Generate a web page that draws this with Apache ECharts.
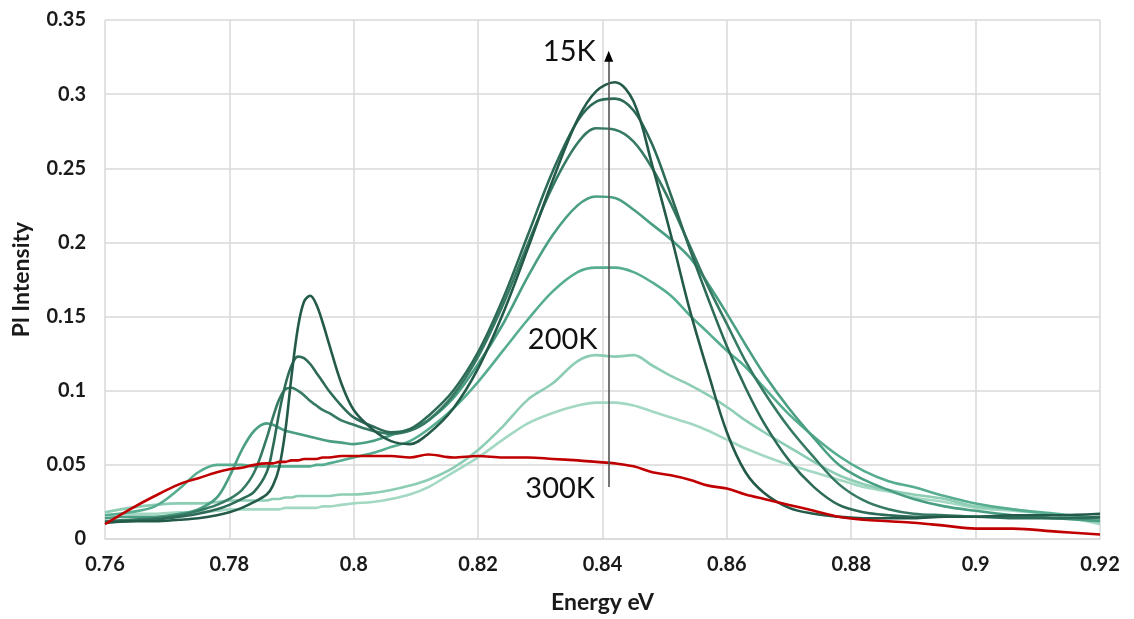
<!DOCTYPE html>
<html>
<head>
<meta charset="utf-8">
<script src="https://cdn.jsdelivr.net/npm/echarts@6/dist/echarts.min.js"></script>
<style>
  html, body { margin: 0; padding: 0; background: #ffffff; }
  #chart { width: 1134px; height: 619px; }
</style>
</head>
<body>
<div id="chart"></div>
<script>
// ---- data ----
const energy = [0.760, 0.764, 0.768, 0.772, 0.775, 0.778, 0.780, 0.782, 0.784, 0.786,
  0.787, 0.788, 0.789, 0.790, 0.791, 0.792, 0.793, 0.794, 0.795, 0.796,
  0.798, 0.800, 0.803, 0.806, 0.809, 0.812, 0.816, 0.820, 0.824, 0.828,
  0.832, 0.836, 0.839, 0.842, 0.845, 0.848, 0.851, 0.854, 0.857, 0.860,
  0.863, 0.866, 0.870, 0.874, 0.878, 0.882, 0.886, 0.890, 0.895, 0.900,
  0.906, 0.913, 0.920];

const pl15K = [0.011, 0.012, 0.012, 0.013, 0.014, 0.016, 0.018, 0.021, 0.025, 0.030,
  0.036, 0.048, 0.073, 0.110, 0.142, 0.160, 0.164, 0.158, 0.146, 0.132,
  0.105, 0.087, 0.074, 0.066, 0.064, 0.071, 0.088, 0.115, 0.152, 0.196,
  0.242, 0.283, 0.302, 0.308, 0.295, 0.252, 0.205, 0.155, 0.112, 0.072,
  0.045, 0.031, 0.021, 0.017, 0.015, 0.014, 0.014, 0.014, 0.015, 0.015,
  0.016, 0.016, 0.017];

const plB = [0.011, 0.012, 0.013, 0.015, 0.017, 0.020, 0.023, 0.027, 0.032, 0.045,
  0.062, 0.085, 0.104, 0.117, 0.123, 0.122, 0.118, 0.112, 0.106, 0.100,
  0.090, 0.082, 0.076, 0.072, 0.074, 0.083, 0.100, 0.126, 0.162, 0.205,
  0.248, 0.282, 0.295, 0.297, 0.289, 0.266, 0.232, 0.196, 0.162, 0.130,
  0.102, 0.078, 0.053, 0.035, 0.023, 0.018, 0.016, 0.015, 0.015, 0.015,
  0.014, 0.014, 0.015];

const plC = [0.012, 0.013, 0.014, 0.016, 0.019, 0.023, 0.027, 0.033, 0.045, 0.068,
  0.082, 0.094, 0.101, 0.102, 0.100, 0.097, 0.093, 0.090, 0.087, 0.085,
  0.080, 0.077, 0.073, 0.071, 0.073, 0.080, 0.097, 0.123, 0.158, 0.199,
  0.238, 0.267, 0.277, 0.276, 0.268, 0.250, 0.226, 0.198, 0.170, 0.145,
  0.120, 0.099, 0.075, 0.055, 0.037, 0.026, 0.020, 0.017, 0.016, 0.015,
  0.015, 0.014, 0.014];

const plD = [0.014, 0.015, 0.015, 0.017, 0.020, 0.028, 0.042, 0.060, 0.073, 0.078,
  0.077, 0.075, 0.073, 0.072, 0.071, 0.070, 0.069, 0.068, 0.067, 0.066,
  0.065, 0.064, 0.066, 0.070, 0.074, 0.080, 0.095, 0.118, 0.145, 0.177,
  0.205, 0.225, 0.231, 0.230, 0.222, 0.212, 0.202, 0.190, 0.172, 0.152,
  0.131, 0.111, 0.088, 0.068, 0.050, 0.040, 0.033, 0.027, 0.022, 0.019,
  0.016, 0.014, 0.012];

const plE = [0.016, 0.018, 0.022, 0.034, 0.045, 0.050, 0.050, 0.050, 0.049, 0.049,
  0.049, 0.049, 0.049, 0.049, 0.049, 0.049, 0.049, 0.050, 0.050, 0.051,
  0.053, 0.055, 0.058, 0.062, 0.066, 0.074, 0.088, 0.106, 0.127, 0.148,
  0.167, 0.180, 0.183, 0.183, 0.180, 0.173, 0.164, 0.151, 0.139, 0.127,
  0.116, 0.102, 0.084, 0.069, 0.056, 0.046, 0.039, 0.035, 0.029, 0.024,
  0.020, 0.017, 0.014];

const pl200K = [0.018, 0.021, 0.023, 0.024, 0.024, 0.025, 0.026, 0.026, 0.026, 0.026,
  0.027, 0.027, 0.028, 0.028, 0.029, 0.029, 0.029, 0.029, 0.029, 0.029,
  0.030, 0.030, 0.031, 0.033, 0.036, 0.040, 0.048, 0.060, 0.076, 0.094,
  0.105, 0.120, 0.124, 0.123, 0.124, 0.117, 0.110, 0.104, 0.097, 0.089,
  0.080, 0.072, 0.062, 0.052, 0.043, 0.037, 0.033, 0.030, 0.027, 0.022,
  0.020, 0.016, 0.012];

const plG = [0.016, 0.017, 0.017, 0.018, 0.018, 0.019, 0.020, 0.020, 0.020, 0.020,
  0.020, 0.020, 0.021, 0.021, 0.021, 0.021, 0.021, 0.021, 0.022, 0.022,
  0.023, 0.024, 0.025, 0.027, 0.030, 0.035, 0.045, 0.055, 0.067, 0.078,
  0.085, 0.090, 0.092, 0.092, 0.090, 0.086, 0.082, 0.078, 0.073, 0.067,
  0.061, 0.056, 0.050, 0.045, 0.040, 0.035, 0.032, 0.028, 0.025, 0.021,
  0.019, 0.016, 0.010];

const pl300K = [0.010, 0.020, 0.029, 0.037, 0.041, 0.045, 0.047, 0.048, 0.050, 0.051,
  0.051, 0.052, 0.052, 0.053, 0.053, 0.054, 0.054, 0.054, 0.055, 0.055,
  0.056, 0.056, 0.056, 0.056, 0.055, 0.057, 0.055, 0.056, 0.055, 0.055,
  0.054, 0.053, 0.052, 0.051, 0.049, 0.045, 0.043, 0.040, 0.036, 0.034,
  0.030, 0.027, 0.023, 0.019, 0.015, 0.013, 0.012, 0.011, 0.009, 0.007,
  0.007, 0.005, 0.003];

// annotation (arrow + temperature labels), in data coordinates
const arrowEnergy = 0.841;
const arrowFrom = 0.035;
const arrowTo = 0.323;
const arrowHeadAt = 0.3255;
const annotationText = ['15K', '200K', '300K'];
const annotationAt = [[0.8389, 0.3284], [0.8392, 0.1345], [0.8388, 0.0340]];

// ---- chart ----
const seriesDefs = [
  { name: 'G', data: plG, color: '#a3d8c3' },
  { name: '200K', data: pl200K, color: '#8ccdb4' },
  { name: 'E', data: plE, color: '#56ad90' },
  { name: 'D', data: plD, color: '#4a9e83' },
  { name: 'C', data: plC, color: '#367a64' },
  { name: 'B', data: plB, color: '#2d6b58' },
  { name: '15K', data: pl15K, color: '#245a4a' },
  { name: '300K', data: pl300K, color: '#c00000' }
];

const chart = echarts.init(document.getElementById('chart'), null, { renderer: 'canvas' });

const labelFont = 'Lato, "Open Sans", sans-serif';

const series = seriesDefs.map(function (s) {
  return {
    name: s.name,
    type: 'line',
    data: energy.map(function (e, i) { return [e, s.data[i]]; }),
    smooth: 0.35,
    showSymbol: false,
    symbol: 'none',
    lineStyle: { color: s.color, width: 2.6 },
    itemStyle: { color: s.color },
    silent: true,
    z: 3
  };
});

series.push({
  name: 'arrow',
  type: 'line',
  data: [],
  silent: true,
  markLine: {
    silent: true,
    symbol: ['none', 'none'],
    label: { show: false },
    lineStyle: { color: '#555555', width: 1.6, type: 'solid' },
    data: [[{ coord: [arrowEnergy, arrowFrom] }, { coord: [arrowEnergy, arrowTo] }]]
  },
  markPoint: {
    silent: true,
    symbol: 'triangle',
    symbolSize: [9, 11],
    itemStyle: { color: '#000000' },
    label: { show: false },
    data: [{ coord: [arrowEnergy, arrowHeadAt] }]
  },
  z: 5
});

chart.setOption({
  animation: false,
  backgroundColor: '#ffffff',
  grid: { left: 105, right: 34, top: 20, bottom: 73, containLabel: false },
  xAxis: {
    type: 'value',
    min: 0.76,
    max: 0.92,
    interval: 0.02,
    name: 'Energy eV',
    nameLocation: 'middle',
    nameGap: 52,
    nameTextStyle: { fontFamily: labelFont, fontWeight: 'bold', fontSize: 23, color: '#1a1a1a' },
    axisLine: { show: true, lineStyle: { color: '#d9d9d9', width: 1.5 } },
    axisTick: { show: false },
    axisLabel: {
      fontFamily: labelFont, fontWeight: 'bold', fontSize: 20, color: '#1a1a1a', margin: 16,
      formatter: function (v) { return String(+v.toFixed(2)); }
    },
    splitLine: { show: true, lineStyle: { color: '#d9d9d9', width: 1.5 } }
  },
  yAxis: {
    type: 'value',
    min: 0,
    max: 0.35,
    interval: 0.05,
    name: 'Pl Intensity',
    nameLocation: 'middle',
    nameGap: 72,
    nameTextStyle: { fontFamily: labelFont, fontWeight: 'bold', fontSize: 23, color: '#1a1a1a' },
    axisLine: { show: false },
    axisTick: { show: false },
    axisLabel: {
      fontFamily: labelFont, fontWeight: 'bold', fontSize: 20, color: '#1a1a1a', margin: 19,
      formatter: function (v) { return String(+v.toFixed(2)); }
    },
    splitLine: { show: true, lineStyle: { color: '#d9d9d9', width: 1.5 } }
  },
  series: series
});

const graphics = annotationText.map(function (t, i) {
  const p = chart.convertToPixel({ gridIndex: 0 }, annotationAt[i]);
  return {
    type: 'text',
    x: p[0],
    y: p[1],
    z: 10,
    style: {
      text: t,
      fill: '#111111',
      font: '29px ' + labelFont,
      textAlign: 'right',
      textVerticalAlign: 'middle'
    }
  };
});
chart.setOption({ graphic: graphics });
</script>
</body>
</html>
